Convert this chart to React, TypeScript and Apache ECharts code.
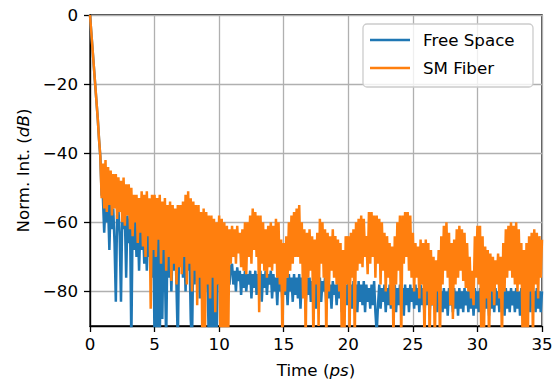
import { useEffect, useRef } from "react";
import * as echarts from "echarts";

// Sampling step of both traces (ps)
const TIME_STEP = 0.1;

const seriesNames = ["Free Space", "SM Fiber"];
const xTicks = [0, 5, 10, 15, 20, 25, 30, 35];
const yTicks = [-80, -60, -40, -20, 0];

// Free Space trace (dB), one value every 0.1 ps from 0 to 35 ps
const freeSpace = [
  0, -5, -10, -15, -20, -25, -30, -36, -41, -52,
  -53, -63, -54, -60, -55, -68, -54, -62, -56, -66,
  -83, -58, -56, -64, -83, -57, -62, -58, -76, -58,
  -66, -59, -95, -60, -68, -58, -70, -60, -74, -61,
  -68, -60, -72, -62, -74, -61, -70, -63, -76, -62,
  -95, -63, -95, -64, -95, -65, -88, -63, -74, -95,
  -64, -76, -65, -80, -66, -74, -64, -79, -95, -66,
  -72, -65, -76, -66, -80, -64, -74, -67, -88, -95,
  -68, -78, -66, -76, -68, -82, -67, -78, -70, -80,
  -69, -76, -95, -70, -95, -72, -95, -71, -95, -72,
  -78, -73, -80, -72, -78, -73, -80, -74, -78, -73,
  -72, -78, -74, -80, -73, -77, -74, -81, -75, -79,
  -74, -80, -75, -78, -74, -82, -75, -79, -74, -81,
  -75, -78, -74, -83, -75, -79, -74, -81, -75, -78,
  -74, -82, -75, -80, -76, -84, -75, -80, -76, -83,
  -75, -81, -76, -84, -75, -80, -76, -83, -75, -81,
  -76, -82, -75, -85, -76, -80, -77, -84, -76, -81,
  -76, -83, -77, -80, -76, -85, -77, -81, -76, -83,
  -77, -80, -76, -84, -77, -82, -78, -85, -77, -81,
  -78, -84, -77, -82, -78, -86, -77, -82, -78, -84,
  -77, -83, -78, -85, -77, -82, -78, -86, -77, -83,
  -78, -84, -77, -86, -78, -83, -79, -85, -78, -84,
  -77, -86, -92, -84, -78, -85, -79, -83, -78, -86,
  -79, -84, -78, -85, -79, -83, -78, -86, -79, -84,
  -78, -85, -79, -87, -78, -84, -79, -86, -78, -83,
  -79, -85, -78, -84, -79, -86, -78, -84, -79, -87,
  -78, -84, -79, -86, -80, -84, -79, -85, -78, -86,
  -79, -84, -80, -86, -79, -85, -80, -87, -79, -84,
  -80, -86, -79, -85, -80, -87, -79, -85, -80, -86,
  -79, -84, -80, -86, -79, -85, -80, -87, -79, -85,
  -80, -86, -79, -84, -80, -86, -79, -85, -80, -87,
  -79, -85, -80, -86, -79, -84, -80, -86, -79, -85,
  -80, -87, -79, -85, -80, -86, -79, -84, -80, -86,
  -79, -85, -80, -87, -79, -84, -80, -86, -79, -85,
  -80, -86, -79, -84, -80, -86, -79, -85, -80, -86,
  -80,
];

// SM Fiber trace (dB), one value every 0.1 ps from 0 to 35 ps
const smFiber = [
  0, -5, -10, -15, -20, -25, -30, -36, -41, -53,
  -43, -56, -42, -57, -44, -55, -45, -58, -46, -56,
  -46, -59, -47, -57, -48, -60, -47, -61, -49, -58,
  -49, -62, -50, -64, -52, -60, -52, -66, -53, -63,
  -51, -67, -52, -70, -51, -64, -53, -85, -52, -68,
  -52, -70, -53, -65, -52, -72, -54, -68, -53, -74,
  -55, -70, -54, -77, -55, -72, -56, -78, -55, -73,
  -55, -75, -54, -70, -52, -78, -51, -72, -53, -80,
  -54, -74, -55, -84, -55, -76, -57, -95, -56, -95,
  -57, -78, -58, -82, -58, -76, -59, -86, -60, -78,
  -58, -95, -59, -95, -60, -95, -61, -95, -62, -72,
  -61, -70, -62, -72, -61, -69, -63, -73, -62, -74,
  -60, -75, -60, -70, -58, -72, -56, -68, -57, -70,
  -58, -86, -58, -72, -60, -74, -62, -76, -61, -73,
  -60, -74, -61, -72, -59, -76, -60, -78, -65, -95,
  -66, -80, -64, -76, -60, -74, -58, -72, -57, -70,
  -56, -70, -55, -72, -60, -82, -62, -95, -63, -76,
  -62, -74, -64, -95, -65, -78, -63, -90, -59, -72,
  -60, -76, -62, -95, -63, -80, -64, -74, -62, -76,
  -64, -78, -65, -80, -66, -95, -68, -95, -64, -78,
  -64, -92, -63, -76, -62, -95, -60, -74, -59, -72,
  -58, -73, -59, -70, -64, -75, -57, -72, -57, -70,
  -58, -76, -58, -72, -59, -78, -60, -74, -63, -80,
  -64, -76, -66, -84, -67, -95, -64, -78, -60, -74,
  -58, -95, -58, -72, -57, -70, -57, -74, -58, -76,
  -63, -80, -66, -76, -67, -82, -65, -78, -66, -95,
  -65, -80, -66, -95, -68, -84, -70, -95, -71, -80,
  -68, -95, -64, -78, -61, -74, -60, -76, -63, -84,
  -66, -88, -65, -78, -62, -76, -61, -74, -62, -77,
  -63, -79, -66, -80, -70, -82, -74, -84, -64, -76,
  -61, -78, -61, -95, -64, -95, -67, -82, -68, -95,
  -69, -80, -70, -84, -71, -78, -69, -82, -70, -95,
  -66, -80, -62, -76, -61, -74, -60, -76, -61, -78,
  -60, -80, -62, -78, -66, -95, -68, -95, -66, -95,
  -64, -80, -63, -95, -62, -78, -63, -82, -64, -76,
  -65,
];

const COLORS = ["#1f77b4", "#ff7f0e"];
const FONT = "DejaVu Sans";
const FS = 16.7;

const toPairs = (vals: number[]) =>
  vals.map((v, i) => [Math.round(i * TIME_STEP * 10) / 10, v]);

const fmt = (v: number) => (v < 0 ? "\u2212" + Math.abs(v) : String(v));

export default function App() {
  const ref = useRef<HTMLDivElement>(null);

  useEffect(() => {
    if (!ref.current) return;
    const chart = echarts.init(ref.current, undefined, { renderer: "svg" });
    const axisLineStyle = { color: "#000", width: 1.3 };
    const labelStyle = { color: "#000", fontSize: FS, fontFamily: FONT };
    const nameRich = {
      a: { fontSize: FS, fontFamily: FONT, color: "#000" },
      b: { fontSize: FS, fontFamily: FONT, color: "#000", fontStyle: "italic" as const },
    };
    chart.setOption({
      animation: false,
      backgroundColor: "#fff",
      grid: {
        left: 90,
        top: 15,
        width: 452,
        height: 311,
        show: true,
        borderColor: "#000",
        borderWidth: 1.3,
        backgroundColor: "transparent",
      },
      xAxis: {
        type: "value",
        min: xTicks[0],
        max: xTicks[xTicks.length - 1],
        interval: 5,
        axisLine: { show: true, onZero: false, lineStyle: axisLineStyle },
        axisTick: { show: true, length: 6, inside: false, lineStyle: axisLineStyle },
        axisLabel: { ...labelStyle, margin: 9, formatter: (v: number) => fmt(v) },
        splitLine: { show: true, lineStyle: { color: "#b0b0b0", width: 1.3 } },
        name: "{a|Time (}{b|ps}{a|)}",
        nameLocation: "middle",
        nameGap: 35,
        nameTextStyle: { rich: nameRich },
      },
      yAxis: {
        type: "value",
        min: -90,
        max: 0,
        axisLine: { show: true, onZero: false, lineStyle: axisLineStyle },
        axisTick: { show: true, length: 6, inside: false, lineStyle: axisLineStyle, customValues: yTicks },
        axisLabel: { ...labelStyle, margin: 12, customValues: yTicks, formatter: (v: number) => fmt(v) },
        splitLine: { show: true, lineStyle: { color: "#b0b0b0", width: 1.3 } },
        name: "{a|Norm. Int. (}{b|dB}{a|)}",
        nameLocation: "middle",
        nameGap: 56,
        nameRotate: 90,
        nameTextStyle: { rich: nameRich },
      },
      series: [
        {
          name: seriesNames[0],
          type: "line",
          data: toPairs(freeSpace),
          showSymbol: false,
          symbol: "none",
          clip: true,
          lineStyle: { color: COLORS[0], width: 2.5 },
          itemStyle: { color: COLORS[0] },
          z: 2,
        },
        {
          name: seriesNames[1],
          type: "line",
          data: toPairs(smFiber),
          showSymbol: false,
          symbol: "none",
          clip: true,
          lineStyle: { color: COLORS[1], width: 2.5 },
          itemStyle: { color: COLORS[1] },
          z: 3,
        },
      ],
      graphic: [
        {
          type: "rect",
          z: 100,
          shape: { x: 363, y: 24, width: 170, height: 63, r: 4 },
          style: { fill: "rgba(255,255,255,0.8)", stroke: "#cccccc", lineWidth: 1.3 },
        },
        ...seriesNames.flatMap((name, i) => [
          {
            type: "line",
            z: 101,
            shape: { x1: 370, y1: 40 + i * 28, x2: 410, y2: 40 + i * 28 },
            style: { stroke: COLORS[i], lineWidth: 2.5 },
          },
          {
            type: "text",
            z: 101,
            x: 423,
            y: 40 + i * 28,
            style: {
              text: name,
              fill: "#000",
              font: `${FS}px "${FONT}"`,
              verticalAlign: "middle",
              align: "left",
            },
          },
        ]),
      ],
    });
    return () => chart.dispose();
  }, []);

  return (
    <div
      ref={ref}
      style={{ position: "fixed", left: 0, top: 0, width: 560, height: 383 }}
    />
  );
}
